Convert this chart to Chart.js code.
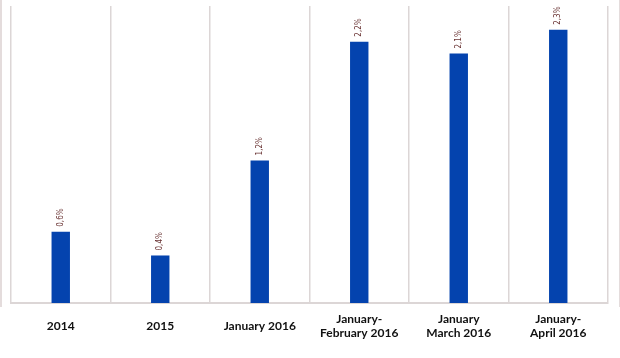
<!DOCTYPE html>
<html>
<head>
<meta charset="utf-8">
<script src="https://cdn.jsdelivr.net/npm/chart.js@4"></script>
<style>
  html, body { margin: 0; padding: 0; background: #ffffff; overflow: hidden; }
  #wrap { position: relative; width: 620px; height: 358px; }
  #frame { position: absolute; left: 0; top: 0; width: 617px; height: 307px;
           border-left: 2px solid #e4dcdc; border-right: 2px solid #e4dcdc; box-sizing: content-box; }
  canvas { position: absolute; left: 0; top: 0; }
</style>
</head>
<body>
<div id="wrap">
  <div id="frame"></div>
  <canvas id="c" width="620" height="358"></canvas>
</div>
<script>
const categories = [
  "2014",
  "2015",
  "January 2016",
  ["January-", "February 2016"],
  ["January", "March 2016"],
  ["January-", "April 2016"]
];
const values = [0.6, 0.4, 1.2, 2.2, 2.1, 2.3];
const valueLabels = ["0,6%", "0,4%", "1,2%", "2,2%", "2,1%", "2,3%"];

const barLabelPlugin = {
  id: 'barLabels',
  afterDatasetsDraw(chart) {
    const ctx = chart.ctx;
    const meta = chart.getDatasetMeta(0);
    ctx.save();
    ctx.fillStyle = '#6a3434';
    ctx.font = '8px "Liberation Sans Narrow", "DejaVu Sans Condensed", sans-serif';
    ctx.textAlign = 'left';
    ctx.textBaseline = 'middle';
    meta.data.forEach((bar, i) => {
      ctx.save();
      ctx.translate(bar.x, bar.y - 5);
      ctx.rotate(-Math.PI / 2);
      ctx.fillText(valueLabels[i], 0, 0);
      ctx.restore();
    });
    ctx.restore();
  }
};

new Chart(document.getElementById('c'), {
  type: 'bar',
  data: {
    labels: categories,
    datasets: [{
      data: values,
      backgroundColor: '#0443ae',
      borderWidth: 0,
      barPercentage: 0.185,
      categoryPercentage: 1.0
    }]
  },
  options: {
    responsive: false,
    animation: false,
    events: [],
    layout: { padding: { left: 11, right: 12, top: 6, bottom: 0 } },
    plugins: { legend: { display: false }, tooltip: { enabled: false } },
    scales: {
      x: {
        afterFit(scale) { scale.height = 55; },
        grid: { display: true, offset: true, color: '#dcd6d6', lineWidth: 1.5, drawTicks: false },
        border: { display: true, color: '#dcd6d6', width: 2 },
        ticks: {
          color: '#111111',
          font: { family: 'Lato', weight: 'bold', size: 12, lineHeight: '14px' },
          padding: 16,
          crossAlign: 'center',
          maxRotation: 0,
          autoSkip: false
        }
      },
      y: {
        display: false,
        min: 0,
        max: 2.5
      }
    }
  },
  plugins: [barLabelPlugin]
});
</script>
</body>
</html>
